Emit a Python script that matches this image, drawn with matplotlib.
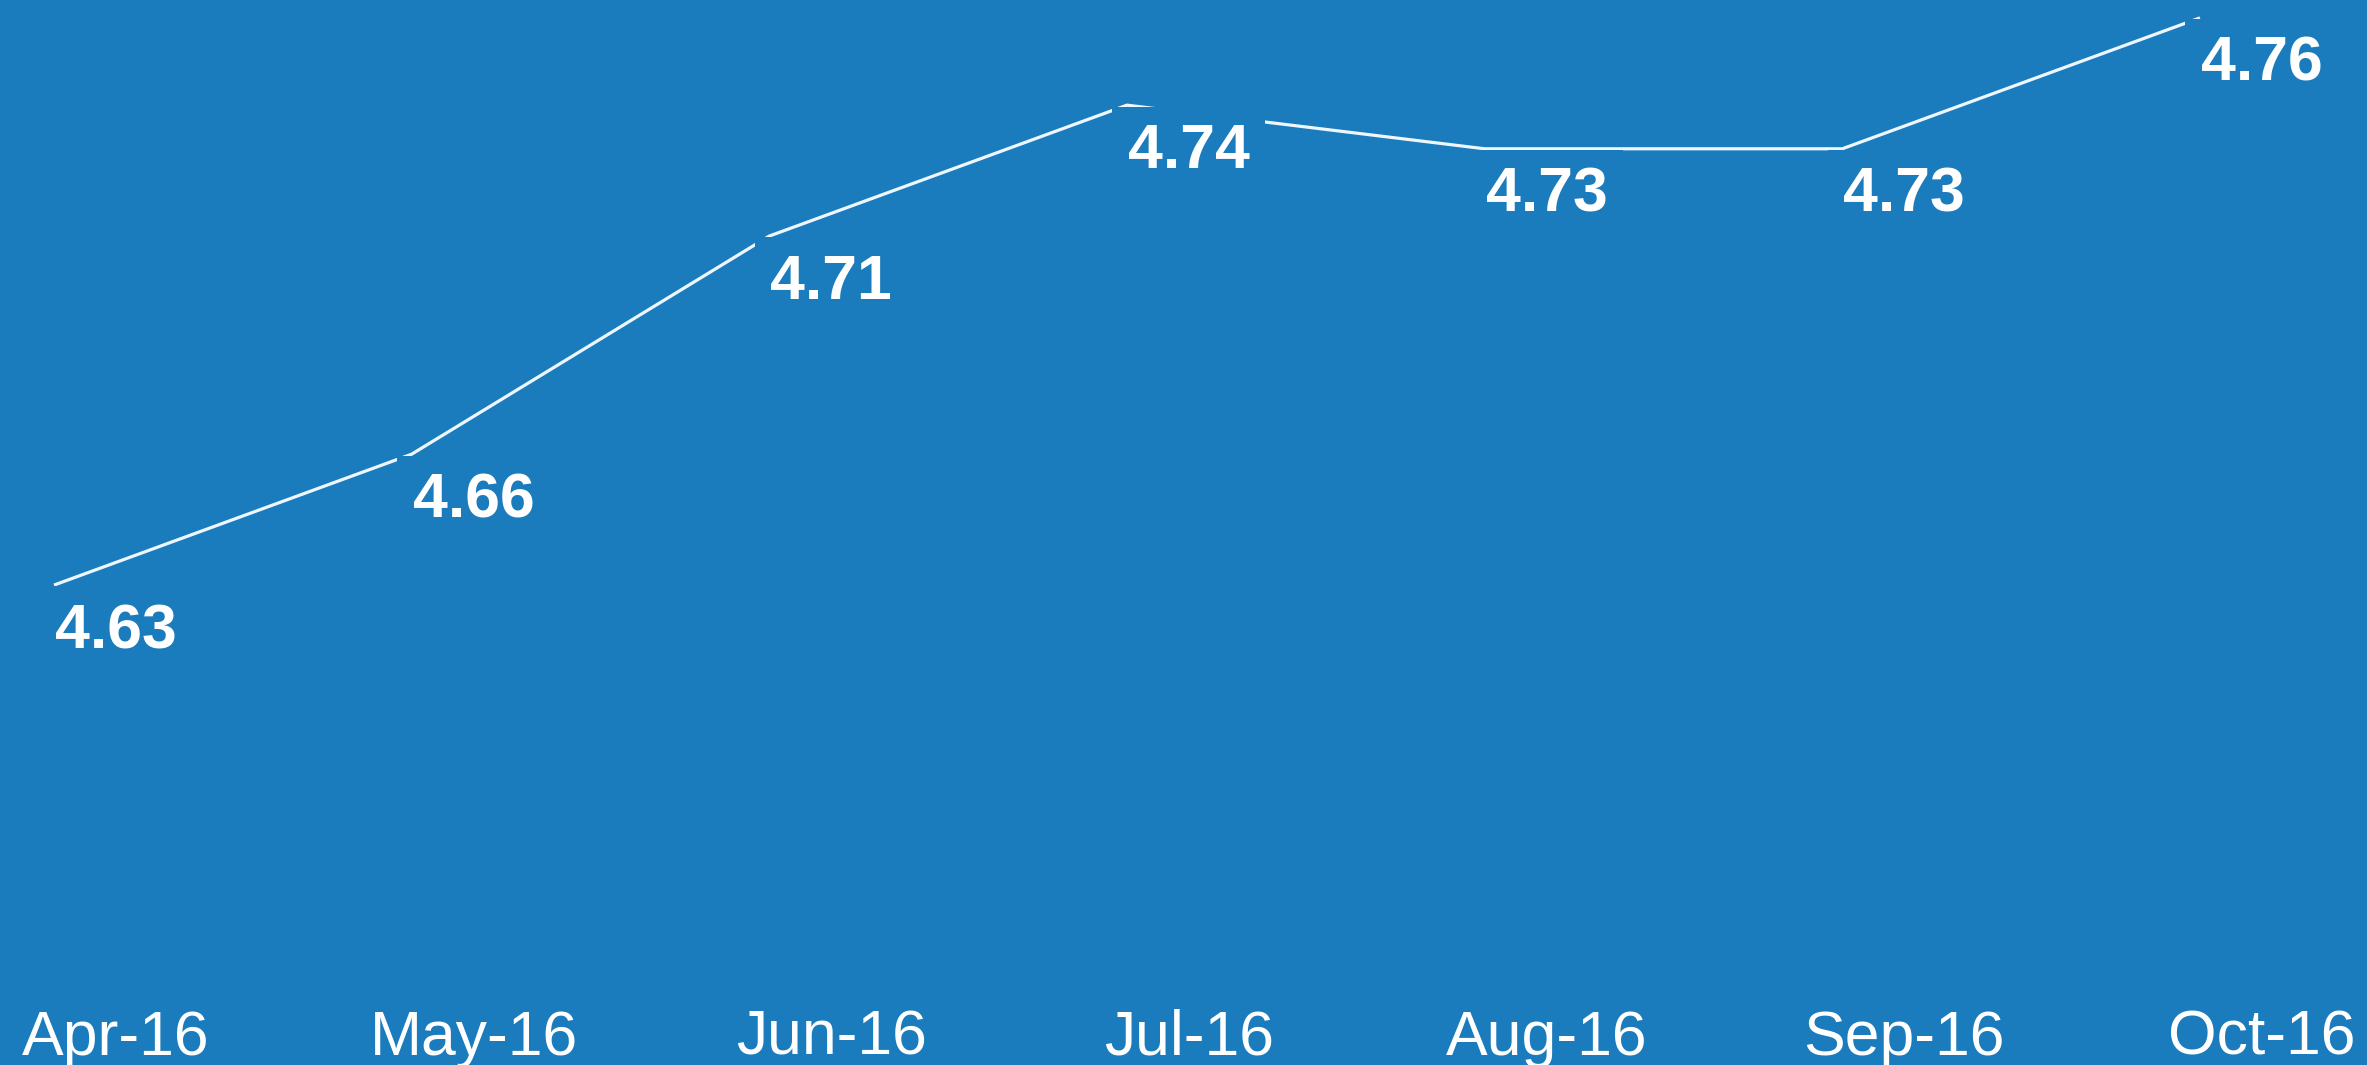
import matplotlib
matplotlib.use("Agg")
import matplotlib.pyplot as plt
import matplotlib.transforms as mtransforms

months = ["Apr-16", "May-16", "Jun-16", "Jul-16", "Aug-16", "Sep-16", "Oct-16"]
values = [4.63, 4.66, 4.71, 4.74, 4.73, 4.73, 4.76]

bg = "#1a7bbd"
plt.rcParams["font.family"] = ["Liberation Sans", "DejaVu Sans"]

fig = plt.figure(figsize=(23.67, 10.65), dpi=100)
fig.patch.set_facecolor(bg)
ax = fig.add_axes([0, 0, 1, 1])
ax.set_facecolor(bg)

x = list(range(len(months)))
ax.plot(x, values, color="#eef7ff", linewidth=2.3, zorder=2, solid_capstyle="butt")

ax.set_xlim(-0.151, 6.467)
ax.set_ylim(4.52, 4.7641)
ax.axis("off")

# labels sit a bit right of the line points
shift = mtransforms.ScaledTranslation(62 / 100, 0, fig.dpi_scale_trans)
for xi, v in zip(x, values):
    ax.annotate(f"{v:.2f}", (xi, v), xytext=(44.6, -33.5), textcoords="offset points",
                ha="center", va="center", fontsize=45, fontweight="bold", color="white",
                zorder=3,
                bbox=dict(boxstyle="square,pad=0.25", facecolor=bg, edgecolor="none"))

tick_tr = ax.get_xaxis_transform() + shift
for xi, m in zip(x, months):
    ax.text(xi, 0.025, m, transform=tick_tr, ha="center", va="center",
            fontsize=45, color="white")

fig.savefig("out.png", dpi=100, facecolor=bg)
plt.close(fig)
